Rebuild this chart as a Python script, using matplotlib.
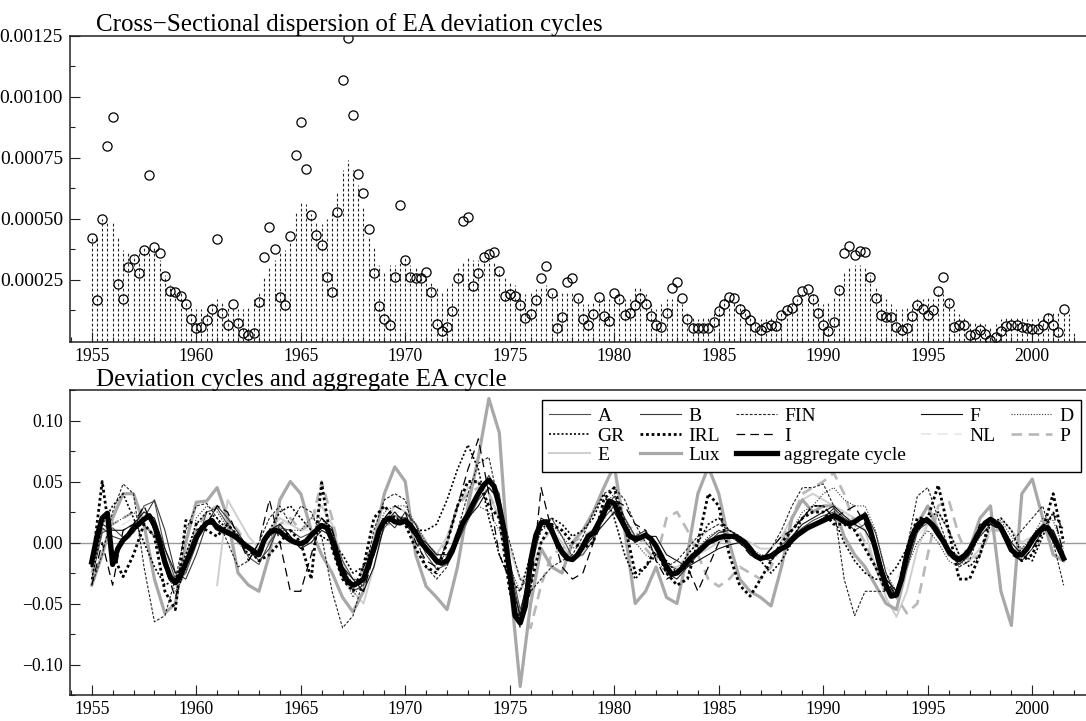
import numpy as np
import matplotlib
matplotlib.use("Agg")
import matplotlib.pyplot as plt
from matplotlib.ticker import MultipleLocator, FixedLocator, FuncFormatter

plt.rcParams['font.family'] = ['Liberation Serif', 'DejaVu Serif']

# ---------------- data ----------------
# cross-sectional dispersion, quarterly from 1955Q1 (circles)
dispersion = [
    0.00042, 0.000166, 0.000499, 0.00080,
    0.000916, 0.000233, 0.000169, 0.000301,
    0.000336, 0.000276, 0.000373, 0.000681,
    0.000384, 0.000361, 0.000267, 0.000204,
    0.000199, 0.000184, 0.000149, 0.000087,
    0.000053, 0.000058, 0.000086, 0.000131,
    0.000419, 0.000113, 0.000063, 0.000152,
    0.000072, 0.000033, 0.000024, 0.000033,
    0.000160, 0.000344, 0.000467, 0.000377,
    0.000177, 0.000145, 0.000428, 0.00076,
    0.000896, 0.000706, 0.000514, 0.000434,
    0.000394, 0.000261, 0.000200, 0.000528,
    0.00107, 0.001243, 0.000925, 0.000685,
    0.000604, 0.000459, 0.000278, 0.000144,
    0.000087, 0.000063, 0.000260, 0.000557,
    0.000332, 0.000263, 0.000256, 0.000256,
    0.000283, 0.000200, 0.000069, 0.000040,
    0.000058, 0.000120, 0.000256, 0.000491,
    0.000509, 0.000225, 0.000276, 0.000345,
    0.000354, 0.000362, 0.000285, 0.000185,
    0.000192, 0.000185, 0.000146, 0.000091,
    0.000111, 0.000165, 0.000256, 0.000308,
    0.000195, 0.000050, 0.000095, 0.000239,
    0.000256, 0.000173, 0.000090, 0.000066,
    0.000108, 0.000181, 0.000102, 0.000080,
    0.000195, 0.000171, 0.000105, 0.000115,
    0.000148, 0.000173, 0.000149, 0.000102,
    0.000066, 0.000054, 0.000112, 0.000217,
    0.000242, 0.000173, 0.000087, 0.000051,
    0.000051, 0.000051, 0.000051, 0.000078,
    0.000122, 0.000149, 0.000180, 0.000174,
    0.000131, 0.000111, 0.000083, 0.000058,
    0.000043, 0.000055, 0.000066, 0.000061,
    0.000104, 0.000127, 0.000134, 0.000167,
    0.000204, 0.000213, 0.000171, 0.000112,
    0.000066, 0.000040, 0.000078, 0.000207,
    0.000361, 0.000387, 0.000350, 0.000366,
    0.000364, 0.000263, 0.000174, 0.000105,
    0.000097, 0.000095, 0.000055, 0.000043,
    0.000053, 0.000101, 0.000146, 0.000131,
    0.000104, 0.000124, 0.000204, 0.000260,
    0.000156, 0.000058, 0.000063, 0.000063,
    0.000025, 0.000027, 0.000044, 0.000027,
    0.000003, 0.000014, 0.000039, 0.000061,
    0.000066, 0.000066, 0.000058, 0.000050,
    0.000046, 0.000046, 0.000066, 0.000091,
    0.000066, 0.000035, 0.000129,
]

# smoothed dispersion, quarterly from 1955Q1 (dotted impulses)
dispersion_smooth = [
    0.00042, 0.00042, 0.00050, 0.00049,
    0.00049, 0.00042, 0.00037, 0.00036,
    0.00035, 0.00037, 0.00038, 0.00039,
    0.00038, 0.00033, 0.00027, 0.00023,
    0.00020, 0.00020, 0.00016, 0.00014,
    0.00013, 0.00013, 0.00014, 0.00016,
    0.00017, 0.00016, 0.00014, 0.00013,
    0.00013, 0.00013, 0.00014, 0.00017,
    0.00020, 0.00026, 0.00030, 0.00033,
    0.00036, 0.00037, 0.00040, 0.00053,
    0.00057, 0.00056, 0.00052, 0.00049,
    0.00048, 0.00050, 0.00053, 0.00061,
    0.00070, 0.00074, 0.00070, 0.00064,
    0.00055, 0.00043, 0.00038, 0.00031,
    0.00028, 0.00031, 0.00031, 0.00033,
    0.00034, 0.00031, 0.00030, 0.00028,
    0.00026, 0.00024, 0.00022, 0.00020,
    0.00022, 0.00024, 0.00030, 0.00032,
    0.00034, 0.00033, 0.00033, 0.00033,
    0.00033, 0.00032, 0.00029, 0.00026,
    0.00024, 0.00023, 0.00020, 0.00019,
    0.00020, 0.00021, 0.00022, 0.00023,
    0.00020, 0.00019, 0.00020, 0.00020,
    0.00020, 0.00018, 0.00015, 0.00015,
    0.00016, 0.00017, 0.00017, 0.00017,
    0.00017, 0.00019, 0.00017, 0.00017,
    0.00022, 0.00022, 0.00019, 0.00015,
    0.00013, 0.00015, 0.00017, 0.00017,
    0.00017, 0.00015, 0.00012, 0.00010,
    0.00009, 0.00010, 0.00010, 0.00012,
    0.00015, 0.00017, 0.00017, 0.00016,
    0.00015, 0.00013, 0.00011, 0.00010,
    0.00009, 0.00009, 0.00010, 0.00010,
    0.00012, 0.00014, 0.00015, 0.00017,
    0.00019, 0.00020, 0.00019, 0.00017,
    0.00015, 0.00016, 0.00018, 0.00023,
    0.00028, 0.00030, 0.00031, 0.00031,
    0.00030, 0.00027, 0.00022, 0.00019,
    0.00017, 0.00015, 0.00013, 0.00013,
    0.00014, 0.00015, 0.00017, 0.00017,
    0.00018, 0.00017, 0.00019, 0.00019,
    0.00017, 0.00013, 0.00011, 0.00010,
    0.00008, 0.00008, 0.00008, 0.00007,
    0.00006, 0.00007, 0.00009, 0.00010,
    0.00010, 0.00010, 0.00010, 0.00009,
    0.00009, 0.00010, 0.00010, 0.00012,
    0.00012, 0.00012, 0.00011, 0.00011,
    0.00003,
]

# aggregate EA cycle, quarterly from 1955Q1
aggregate = [
    -0.016, 0.005, 0.020, 0.024,
    -0.018, -0.005, 0.002, 0.006,
    0.012, 0.015, 0.019, 0.022,
    0.014, 0.000, -0.016, -0.028,
    -0.033, -0.027, -0.017, -0.007,
    0.004, 0.011, 0.016, 0.018,
    0.012, 0.010, 0.008, 0.006,
    0.003, -0.001, -0.004, -0.007,
    -0.010, 0.002, 0.008, 0.010,
    0.009, 0.005, 0.002, 0.000,
    -0.001, 0.001, 0.006, 0.010,
    0.014, 0.012, 0.002, -0.012,
    -0.025, -0.032, -0.035, -0.033,
    -0.030, -0.018, -0.005, 0.010,
    0.018, 0.020, 0.017, 0.016,
    0.018, 0.014, 0.008, 0.000,
    -0.005, -0.010, -0.015, -0.017,
    -0.015, -0.007, 0.005, 0.016,
    0.023, 0.032, 0.040, 0.047,
    0.051, 0.046, 0.030, 0.008,
    -0.025, -0.060, -0.066, -0.052,
    -0.015, 0.006, 0.016, 0.017,
    0.010, 0.000, -0.008, -0.013,
    -0.014, -0.010, -0.003, 0.005,
    0.008, 0.016, 0.024, 0.034,
    0.032, 0.022, 0.013, 0.005,
    0.003, 0.004, 0.006, 0.003,
    -0.003, -0.011, -0.020, -0.026,
    -0.025, -0.021, -0.016, -0.011,
    -0.008, -0.004, 0.000, 0.002,
    0.004, 0.005, 0.005, 0.005,
    0.003, 0.000, -0.005, -0.011,
    -0.013, -0.012, -0.011, -0.008,
    -0.005, -0.003, 0.002, 0.006,
    0.009, 0.012, 0.014, 0.016,
    0.018, 0.020, 0.022, 0.020,
    0.017, 0.015, 0.017, 0.020,
    0.022, 0.010, -0.005, -0.022,
    -0.035, -0.044, -0.043, -0.030,
    -0.010, 0.005, 0.014, 0.018,
    0.018, 0.014, 0.007, 0.001,
    -0.007, -0.012, -0.014, -0.011,
    -0.006, 0.002, 0.010, 0.016,
    0.019, 0.016, 0.012, 0.003,
    -0.006, -0.010, -0.010, -0.005,
    0.002, 0.008, 0.012, 0.012,
    0.004, -0.004, -0.013,
]

# country deviation cycles, half-yearly from 1955H1 (one row = 5 years)
nan = np.nan
cyc_A = [
    -0.030, 0.008, 0.012, 0.004, 0.010, 0.030, 0.034, -0.005, -0.030, -0.025,
    -0.002, 0.025, 0.028, 0.015, 0.005, -0.012, -0.018, 0.000, 0.012, 0.010,
    0.004, 0.008, 0.012, 0.010, -0.015, -0.030, -0.032, -0.010, 0.012, 0.022,
    0.020, 0.010, -0.010, -0.022, -0.018, 0.000, 0.018, 0.035, 0.045, 0.035,
    -0.015, -0.055, -0.025, 0.015, 0.020, 0.005, -0.012, -0.010, 0.002, 0.020,
    0.030, 0.015, 0.000, 0.008, 0.000, -0.018, -0.022, -0.018, -0.005, 0.003,
    0.010, 0.006, 0.000, -0.008, -0.015, -0.010, -0.002, 0.005, 0.012, 0.018,
    0.022, 0.025, 0.018, 0.010, 0.015, -0.002, -0.030, -0.040, -0.015, 0.010,
    0.016, 0.005, -0.010, -0.016, -0.008, 0.008, 0.018, 0.010, -0.008, -0.012,
    0.000, 0.015, 0.006, -0.010,
]
cyc_B = [
    -0.020, 0.012, 0.005, 0.002, 0.008, 0.020, 0.035, 0.010, -0.025, -0.030,
    -0.010, 0.015, 0.030, 0.020, 0.008, -0.005, -0.015, -0.005, 0.015, 0.005,
    -0.005, 0.005, 0.020, 0.012, -0.020, -0.040, -0.035, 0.000, 0.020, 0.012,
    0.025, 0.015, -0.005, -0.018, -0.015, 0.005, 0.025, 0.040, 0.055, 0.040,
    -0.020, -0.060, -0.020, 0.018, 0.012, -0.005, -0.015, -0.005, 0.010, 0.025,
    0.038, 0.020, 0.005, 0.010, -0.005, -0.025, -0.030, -0.020, -0.010, 0.000,
    0.008, 0.010, 0.005, -0.005, -0.012, -0.015, -0.005, 0.002, 0.008, 0.015,
    0.020, 0.028, 0.020, 0.015, 0.025, 0.008, -0.025, -0.045, -0.020, 0.008,
    0.020, 0.012, -0.005, -0.012, -0.005, 0.005, 0.015, 0.012, -0.005, -0.015,
    -0.005, 0.010, 0.010, -0.008,
]
cyc_FIN = [
    -0.035, -0.010, 0.025, 0.048, 0.040, -0.020, -0.065, -0.060, -0.030, 0.010,
    0.030, 0.032, 0.020, 0.000, -0.020, -0.015, 0.000, 0.020, 0.030, 0.015,
    0.030, 0.025, 0.005, -0.040, -0.070, -0.060, -0.030, 0.010, 0.035, 0.040,
    0.035, 0.005, -0.020, -0.030, -0.020, 0.010, 0.040, 0.065, 0.070, 0.030,
    0.000, -0.030, -0.040, -0.030, -0.020, -0.015, -0.010, 0.005, 0.025, 0.040,
    0.045, 0.035, 0.015, 0.000, -0.010, -0.020, -0.015, -0.005, 0.005, 0.010,
    0.015, 0.010, 0.005, -0.010, -0.015, -0.005, 0.010, 0.030, 0.045, 0.045,
    0.048, 0.030, -0.030, -0.060, -0.040, -0.040, -0.040, -0.042, -0.005, 0.038,
    0.045, 0.020, -0.005, -0.020, -0.015, 0.010, 0.020, 0.015, 0.000, 0.010,
    0.020, 0.030, 0.000, -0.035,
]
cyc_F = [
    -0.015, 0.015, 0.010, 0.010, 0.015, 0.025, 0.020, -0.005, -0.025, -0.020,
    0.005, 0.015, 0.015, 0.010, 0.005, -0.005, -0.010, 0.010, 0.015, 0.005,
    -0.005, 0.000, 0.010, 0.005, -0.020, -0.030, -0.040, -0.020, 0.015, 0.025,
    0.015, 0.005, 0.000, -0.010, -0.010, 0.005, 0.020, 0.030, 0.045, 0.035,
    -0.030, -0.060, -0.015, 0.020, 0.015, -0.010, -0.015, -0.005, 0.005, 0.015,
    0.025, 0.010, 0.000, 0.005, 0.005, -0.010, -0.015, -0.020, -0.015, -0.010,
    -0.005, -0.002, 0.000, -0.008, -0.012, -0.012, -0.005, 0.005, 0.015, 0.020,
    0.025, 0.030, 0.022, 0.015, 0.010, -0.005, -0.030, -0.040, -0.015, 0.012,
    0.018, 0.010, -0.008, -0.018, -0.010, 0.010, 0.018, 0.015, 0.000, -0.010,
    0.000, 0.012, 0.010, -0.012,
]
cyc_D = [
    -0.010, 0.010, 0.015, 0.020, 0.025, 0.015, 0.005, -0.020, -0.040, -0.025,
    0.020, 0.030, 0.025, 0.012, 0.000, -0.010, -0.005, 0.005, 0.010, 0.010,
    0.010, 0.020, 0.020, 0.005, -0.025, -0.045, -0.030, 0.000, 0.025, 0.030,
    0.030, 0.015, 0.000, -0.010, -0.012, 0.005, 0.020, 0.030, 0.025, 0.010,
    -0.020, -0.040, -0.020, 0.010, 0.015, 0.005, -0.005, 0.000, 0.010, 0.030,
    0.040, 0.020, 0.000, -0.010, -0.015, -0.025, -0.030, -0.020, -0.005, 0.005,
    0.010, 0.005, 0.000, -0.005, -0.010, -0.012, -0.005, 0.010, 0.025, 0.030,
    0.040, 0.045, 0.035, 0.030, 0.030, 0.010, -0.025, -0.040, -0.020, 0.000,
    0.010, 0.000, -0.015, -0.020, -0.010, 0.005, 0.015, 0.018, 0.005, -0.005,
    0.005, 0.020, 0.018, -0.005,
]
cyc_GR = [
    -0.030, 0.015, 0.030, 0.040, 0.020, 0.000, -0.020, -0.035, -0.030, -0.010,
    0.015, 0.025, 0.020, 0.010, 0.005, -0.010, -0.010, 0.010, 0.025, 0.030,
    0.020, 0.010, 0.005, 0.000, -0.010, -0.025, -0.020, 0.000, 0.015, 0.020,
    0.020, 0.010, 0.010, 0.015, 0.035, 0.060, 0.080, 0.060, 0.020, -0.010,
    -0.030, -0.040, -0.010, 0.010, 0.020, 0.015, 0.005, 0.010, 0.020, 0.040,
    0.020, -0.010, -0.030, -0.020, -0.010, -0.015, -0.025, -0.010, 0.000, 0.015,
    0.020, 0.010, 0.005, -0.005, -0.015, -0.025, -0.015, 0.000, 0.020, 0.030,
    0.030, 0.020, 0.000, -0.015, -0.025, -0.030, -0.030, -0.020, -0.005, 0.010,
    0.020, 0.025, 0.010, -0.010, -0.020, -0.010, 0.015, 0.020, 0.010, -0.010,
    -0.015, 0.005, 0.025, 0.010,
]
cyc_IRL = [
    -0.020, 0.050, -0.010, -0.028, -0.010, 0.015, 0.005, -0.040, -0.055, 0.018,
    0.015, 0.010, 0.005, 0.015, 0.005, -0.005, -0.015, -0.010, 0.000, 0.010,
    0.000, -0.030, 0.049, -0.005, -0.030, -0.040, -0.020, 0.020, 0.030, 0.020,
    0.015, -0.005, -0.020, -0.025, 0.000, 0.030, 0.050, 0.050, 0.030, 0.020,
    -0.040, -0.065, -0.035, 0.000, 0.015, 0.010, 0.000, -0.005, 0.000, 0.035,
    0.045, 0.015, -0.025, -0.020, -0.005, -0.025, -0.035, -0.030, 0.000, 0.040,
    0.030, -0.010, -0.035, -0.044, -0.030, -0.015, 0.000, 0.010, 0.020, 0.025,
    0.025, 0.015, 0.015, 0.010, -0.005, -0.020, -0.040, -0.045, -0.005, 0.020,
    0.020, 0.047, 0.010, -0.030, -0.030, -0.010, 0.020, 0.015, -0.005, -0.015,
    -0.010, 0.010, 0.040, 0.000,
]
cyc_I = [
    -0.035, 0.000, -0.035, 0.010, 0.015, 0.030, 0.010, -0.020, -0.045, -0.020,
    0.010, 0.015, 0.030, 0.025, 0.005, -0.015, 0.000, 0.035, 0.000, -0.040,
    -0.040, -0.010, 0.020, 0.010, -0.020, -0.035, -0.040, -0.010, 0.020, 0.030,
    0.025, 0.000, -0.015, -0.020, 0.000, 0.030, 0.060, 0.085, 0.040, -0.010,
    -0.030, -0.070, -0.040, 0.045, 0.010, -0.020, -0.030, -0.025, 0.000, 0.020,
    0.035, 0.030, 0.015, 0.010, -0.015, -0.030, -0.025, -0.020, -0.040, -0.020,
    0.000, 0.005, 0.000, -0.010, -0.015, -0.005, 0.005, 0.010, 0.020, 0.030,
    0.030, 0.020, 0.025, 0.030, 0.015, -0.005, -0.030, -0.045, -0.010, 0.010,
    0.020, 0.010, -0.010, -0.015, -0.005, 0.015, 0.015, 0.010, -0.010, -0.015,
    -0.005, 0.010, 0.025, -0.010,
]
cyc_NL = [
    -0.020, 0.015, 0.010, 0.015, 0.020, 0.025, 0.015, -0.015, -0.030, -0.020,
    0.005, 0.020, 0.025, 0.015, 0.005, -0.005, -0.010, 0.005, 0.015, 0.015,
    0.010, 0.010, 0.015, 0.005, -0.020, -0.030, -0.025, 0.000, 0.020, 0.025,
    0.025, 0.015, 0.000, -0.015, -0.010, 0.010, 0.025, 0.040, 0.040, 0.025,
    -0.020, -0.045, -0.015, 0.015, 0.010, -0.005, -0.010, -0.005, 0.010, 0.025,
    0.030, 0.015, 0.000, -0.005, -0.015, -0.025, -0.020, -0.010, 0.000, 0.010,
    0.015, 0.010, 0.005, -0.005, -0.010, -0.010, 0.000, 0.010, 0.020, 0.025,
    0.030, 0.030, 0.025, 0.015, 0.010, -0.005, -0.020, -0.030, -0.015, 0.005,
    0.015, 0.010, -0.005, -0.015, -0.010, 0.005, 0.020, 0.015, 0.000, -0.005,
    0.005, 0.015, 0.010, -0.005,
]
cyc_P = [
    -0.025, 0.010, 0.015, 0.020, 0.025, 0.015, 0.005, -0.020, -0.030, -0.010,
    0.010, 0.025, 0.030, 0.020, 0.010, -0.005, -0.010, 0.000, 0.015, 0.020,
    0.010, 0.015, 0.050, 0.020, -0.020, -0.040, -0.020, 0.000, 0.015, 0.015,
    0.020, 0.015, 0.000, -0.010, 0.000, 0.030, 0.040, 0.045, 0.040, 0.020,
    -0.030, -0.060, -0.070, -0.035, -0.010, -0.005, 0.000, 0.005, 0.010, 0.020,
    0.025, 0.015, 0.010, -0.005, -0.015, 0.020, 0.025, 0.010, -0.010, -0.030,
    -0.036, -0.030, -0.020, -0.025, -0.030, -0.020, 0.000, 0.020, 0.040, 0.045,
    0.050, 0.057, 0.040, 0.015, 0.000, -0.020, -0.040, -0.045, -0.058, -0.050,
    -0.010, 0.030, 0.035, 0.005, -0.015, -0.010, 0.010, 0.010, -0.005, -0.005,
    0.000, 0.010, 0.005, -0.010,
]
cyc_E = [
    nan, nan, nan, nan, nan, nan, nan, nan, nan, nan,
    nan, nan, -0.035, 0.035, 0.020, 0.005, -0.005, 0.010, 0.020, 0.015,
    0.010, 0.020, 0.030, 0.015, -0.015, -0.040, -0.050, -0.020, 0.015, 0.030,
    0.025, 0.015, 0.000, -0.010, 0.005, 0.030, 0.045, 0.050, 0.040, 0.020,
    -0.005, -0.030, -0.025, 0.000, 0.010, 0.000, -0.015, -0.010, 0.010, 0.025,
    0.030, 0.020, 0.005, 0.000, -0.010, -0.020, -0.020, -0.015, -0.010, -0.005,
    0.000, 0.005, 0.005, 0.000, -0.005, -0.005, 0.005, 0.020, 0.035, 0.040,
    0.035, 0.030, 0.025, 0.020, 0.010, -0.020, -0.045, -0.061, -0.040, -0.005,
    0.015, 0.025, 0.010, -0.010, -0.015, -0.005, 0.010, 0.020, 0.010, 0.000,
    0.005, 0.015, 0.005, -0.010,
]
cyc_Lux = [
    -0.035, -0.010, 0.020, 0.040, 0.040, 0.015, -0.030, -0.058, -0.050, 0.000,
    0.033, 0.034, 0.045, 0.020, -0.025, -0.035, -0.040, -0.010, 0.035, 0.050,
    0.040, 0.010, -0.010, -0.025, -0.045, -0.057, -0.040, 0.000, 0.040, 0.062,
    0.050, -0.010, -0.036, -0.045, -0.055, -0.020, 0.030, 0.070, 0.118, 0.090,
    -0.030, -0.118, -0.050, -0.005, -0.020, -0.025, 0.000, 0.010, 0.025, 0.045,
    0.063, 0.010, -0.050, -0.040, -0.020, -0.045, -0.050, -0.010, 0.040, 0.062,
    0.040, 0.000, -0.030, -0.040, -0.045, -0.052, -0.020, 0.020, 0.035, 0.025,
    0.030, 0.030, 0.005, -0.010, -0.020, -0.035, -0.050, -0.055, -0.020, 0.015,
    0.030, 0.010, -0.010, -0.015, -0.005, 0.020, 0.030, -0.040, -0.068, 0.040,
    0.052, 0.020, -0.010, -0.015,
]

start_year = 1955
year_ticks = list(range(1955, 2001, 5))

# ---------------- figure ----------------
W, H = 1086, 721
fig = plt.figure(figsize=(W / 100, H / 100), dpi=100)

def px_axes(left, top, right, bottom):
    return fig.add_axes([left / W, 1 - bottom / H, (right - left) / W, (bottom - top) / H])

ax1 = px_axes(70, 36, 1086, 342)
ax2 = px_axes(70, 390, 1086, 695)

xlim = (1953.96, 2002.57)

def style_axes(ax):
    for s in ['left', 'top', 'bottom']:
        ax.spines[s].set_linewidth(1.1)
        ax.spines[s].set_color('#222222')
    ax.spines['right'].set_visible(False)
    ax.set_xlim(*xlim)
    ax.xaxis.set_major_locator(FixedLocator(year_ticks))
    ax.xaxis.set_minor_locator(MultipleLocator(1))
    ax.tick_params(which='both', direction='in', top=False, right=False,
                   labelsize=12.7, width=0.8, color='#222222')
    ax.tick_params(which='major', length=7)
    ax.tick_params(which='minor', length=3.3)
    ax.tick_params(axis='x', pad=4)
    ax.tick_params(axis='y', pad=5)

def minus(fmt):
    return FuncFormatter(lambda v, p: (fmt % v).replace('-', '\u2212'))

# top panel
xq = start_year + np.arange(len(dispersion)) / 4
xs = start_year + np.arange(len(dispersion_smooth)) / 4
ax1.vlines(xs, 0, dispersion_smooth, colors='#222222', linewidth=0.8,
           linestyles=(0, (2.5, 2)))
ax1.plot(xq, dispersion, linestyle='none', marker='o', markersize=6.6,
         markerfacecolor='none', markeredgecolor='black', markeredgewidth=0.9)
style_axes(ax1)
ax1.set_ylim(-0.0000056, 0.00125)
ax1.yaxis.set_major_locator(FixedLocator([0.00025, 0.0005, 0.00075, 0.001, 0.00125]))
ax1.yaxis.set_minor_locator(FixedLocator([0.000125, 0.000375, 0.000625, 0.000875, 0.001125]))
ax1.yaxis.set_major_formatter(minus('%.5f'))
ax1.tick_params(axis='y', labelsize=14)
ax1.text(0.0256, 1 + 5 / 306, 'Cross\u2212Sectional dispersion of EA deviation cycles',
         transform=ax1.transAxes, fontsize=18, va='baseline', ha='left')

# bottom panel
xh = start_year + np.arange(len(cyc_A)) / 2
xa = start_year + np.arange(len(aggregate)) / 4
ax2.axhline(0, color='#999999', linewidth=1.0, zorder=0.5)

series = [
    ('NL', cyc_NL, dict(color='#e6e6e6', lw=1.2, ls=(0, (6, 4)))),
    ('E', cyc_E, dict(color='#cfcfcf', lw=1.4, ls='-')),
    ('P', cyc_P, dict(color='#b8b8b8', lw=1.9, ls=(0, (4, 2.5)))),
    ('Lux', cyc_Lux, dict(color='#a8a8a8', lw=2.3, ls='-')),
    ('A', cyc_A, dict(color='#505050', lw=0.8, ls='-')),
    ('B', cyc_B, dict(color='#383838', lw=0.8, ls='-')),
    ('FIN', cyc_FIN, dict(color='#222222', lw=0.8, ls=(0, (2.5, 1.5)))),
    ('F', cyc_F, dict(color='#111111', lw=0.8, ls='-')),
    ('D', cyc_D, dict(color='#333333', lw=0.8, ls=(0, (1, 1.5)))),
    ('GR', cyc_GR, dict(color='black', lw=1.2, ls=(0, (1.2, 1.3)))),
    ('IRL', cyc_IRL, dict(color='black', lw=2.0, ls=(0, (1, 1)))),
    ('I', cyc_I, dict(color='black', lw=0.9, ls=(0, (7, 4)))),
]
handles = {}
for name, vals, st in series:
    h, = ax2.plot(xh, vals, color=st['color'], linewidth=st['lw'], linestyle=st['ls'])
    handles[name] = h
h, = ax2.plot(xa, aggregate, color='black', linewidth=3.8, solid_joinstyle='round')
handles['aggregate cycle'] = h

style_axes(ax2)
ax2.set_ylim(-0.125, 0.125)
ax2.yaxis.set_major_locator(FixedLocator([-0.10, -0.05, 0.0, 0.05, 0.10]))
ax2.yaxis.set_minor_locator(FixedLocator([-0.125, -0.075, -0.025, 0.025, 0.075, 0.125]))
ax2.yaxis.set_major_formatter(minus('%.2f'))
ax2.text(0.0256, 1 + 4 / 305, 'Deviation cycles and aggregate EA cycle',
         transform=ax2.transAxes, fontsize=18, va='baseline', ha='left')

order = ['A', 'GR', 'E', 'B', 'IRL', 'Lux', 'FIN', 'I', 'aggregate cycle',
         'F', 'NL', 'D', 'P']
leg = ax2.legend([handles[k] for k in order], order, ncol=5,
                 loc='upper left', bbox_to_anchor=((542 - 70) / 1016, (695 - 400) / 305),
                 borderaxespad=0, fontsize=14, frameon=True, fancybox=False,
                 handlelength=2.1, handletextpad=0.38, columnspacing=0.8,
                 labelspacing=0.1, borderpad=0.38)
leg.get_frame().set_edgecolor('black')
leg.get_frame().set_linewidth(1.0)
leg.get_frame().set_alpha(1)

fig.savefig('out.png', dpi=100)
